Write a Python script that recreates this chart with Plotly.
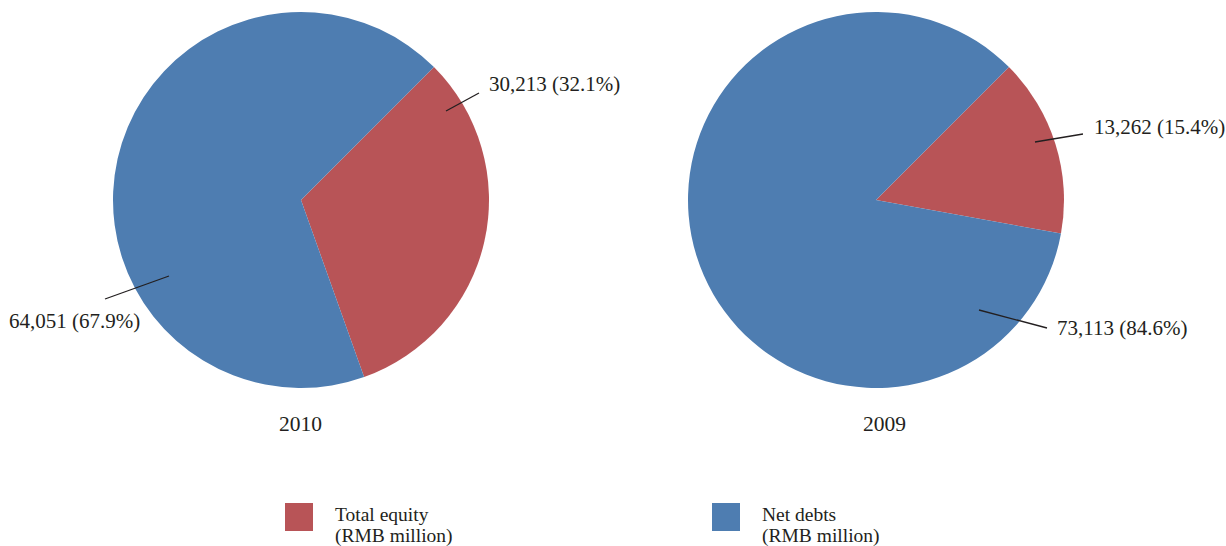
import plotly.graph_objects as go

W, H = 1226, 546

years = ["2010", "2009"]
categories = ["Total equity", "Net debts"]
legend_sub = "(RMB million)"
values_2010 = [30213, 64051]
values_2009 = [13262, 73113]
colors = ["#B85457", "#4E7DB1"]

FONT = "Liberation Serif, Times New Roman, serif"
TXT = "#231F20"


def px(x):
    return x / W


def py(y):
    return 1 - y / H


fig = go.Figure()

# pie geometry (pixels)
R = 188
centers = [(301, 200), (876, 200)]
series = [values_2010, values_2009]

for (cx, cy), vals in zip(centers, series):
    fig.add_trace(go.Pie(
        labels=categories, values=vals, sort=False, direction="clockwise",
        rotation=45, textinfo="none", hoverinfo="label+value+percent",
        marker=dict(colors=colors, line=dict(width=0)),
        domain=dict(x=[px(cx - R), px(cx + R)], y=[py(cy + R), py(cy - R)]),
        showlegend=False,
    ))

# label placements: (line start, line end, text anchor x, text y, xanchor)
placements = [
    [((446, 111), (479, 93), 487, 84, "left"),
     ((169, 276), (105, 299), 142, 321, "right")],
    [((1035, 142), (1083, 134), 1092, 127, "left"),
     ((979, 310), (1047, 328), 1055, 328, "left")],
]

shapes = []
annotations = []
for vals, pl in zip(series, placements):
    total = sum(vals)
    for v, (p0, p1, tx, ty, xa) in zip(vals, pl):
        shapes.append(dict(type="line", xref="paper", yref="paper",
                           x0=px(p0[0]), y0=py(p0[1]), x1=px(p1[0]), y1=py(p1[1]),
                           line=dict(color="#231F20", width=1.3)))
        annotations.append(dict(
            text=f"{v:,} ({v / total * 100:.1f}%)", xref="paper", yref="paper",
            x=px(tx), y=py(ty), xanchor=xa, yanchor="middle", showarrow=False,
            font=dict(family=FONT, size=21, color=TXT)))

# year captions
for yr, xc in zip(years, [300, 884]):
    annotations.append(dict(text=yr, xref="paper", yref="paper", x=px(xc), y=py(424),
                            xanchor="center", yanchor="middle", showarrow=False,
                            font=dict(family=FONT, size=21.5, color=TXT)))

# manual legend
for cat, col, lx in zip(categories, colors, [285, 712]):
    shapes.append(dict(type="rect", xref="paper", yref="paper",
                       x0=px(lx), x1=px(lx + 28), y0=py(531), y1=py(503),
                       fillcolor=col, line=dict(width=0)))
    for line_text, ly in [(cat, 514), (legend_sub, 536)]:
        annotations.append(dict(text=line_text, xref="paper", yref="paper",
                                x=px(lx + 48), y=py(ly), xanchor="left", yanchor="middle",
                                showarrow=False, font=dict(family=FONT, size=19.5, color=TXT)))

fig.update_layout(
    width=W, height=H, margin=dict(l=0, r=0, t=0, b=0),
    paper_bgcolor="white", plot_bgcolor="white",
    shapes=shapes, annotations=annotations, showlegend=False,
)

fig.write_html(
    "out.html",
    config={"displayModeBar": False},
    post_script="document.body.style.margin='0';document.body.style.overflow='hidden';",
)
